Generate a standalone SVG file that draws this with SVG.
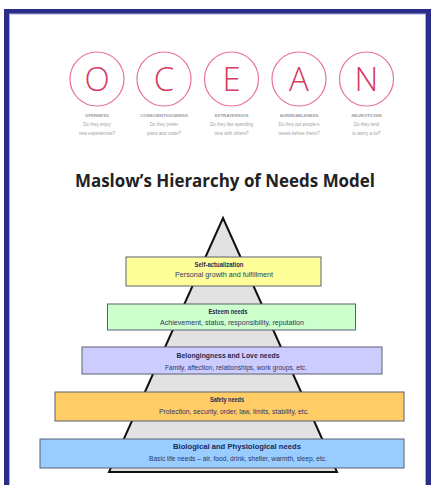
<svg xmlns="http://www.w3.org/2000/svg" width="431" height="485" viewBox="0 0 431 485">
<style>
.ring{fill:none;stroke:#e8748f;stroke-width:1.2}
.letter{font-family:"Open Sans",sans-serif;font-weight:300;font-size:33px;fill:#d63a5e;text-anchor:middle}
.cap{font-family:"Liberation Sans",sans-serif;font-size:4.3px;fill:#9a9a9a;text-anchor:middle;font-weight:bold}
.q{font-family:"Liberation Sans",sans-serif;font-size:4.5px;fill:#a0a0a0;text-anchor:middle}
.band{stroke:#5a6070;stroke-width:1}
.bt{font-family:"Liberation Sans",sans-serif;font-weight:bold;font-size:7px;fill:#1d2a55;text-anchor:middle}
.bs{font-family:"Liberation Sans",sans-serif;font-size:7px;fill:#2a3766;text-anchor:middle}
</style>
<rect x="0" y="0" width="431" height="485" fill="#ffffff"/>
<g id="frame">
<rect x="4" y="9" width="427" height="476" fill="#2c2d88"/>
<rect x="9.5" y="14" width="416" height="472" fill="#ffffff" stroke="#a9a9dc" stroke-width="1"/>
</g>
<g id="ocean">
<g id="o"><circle class="ring" cx="97" cy="79" r="27"/><text class="letter" x="97" y="91">O</text><text class="cap" x="97" y="117">OPENNESS</text><text class="q" x="97" y="126">Do they enjoy</text><text class="q" x="97" y="135">new experiences?</text></g>
<g id="c"><circle class="ring" cx="164" cy="79" r="27"/><text class="letter" x="164" y="91">C</text><text class="cap" x="164" y="117">CONSCIENTIOUSNESS</text><text class="q" x="164" y="126">Do they prefer</text><text class="q" x="164" y="135">plans and order?</text></g>
<g id="e"><circle class="ring" cx="231.5" cy="79" r="27"/><text class="letter" x="231.5" y="91">E</text><text class="cap" x="231.5" y="117">EXTRAVERSION</text><text class="q" x="231.5" y="126">Do they like spending</text><text class="q" x="231.5" y="135">time with others?</text></g>
<g id="a"><circle class="ring" cx="299" cy="79" r="27"/><text class="letter" x="299" y="91">A</text><text class="cap" x="299" y="117">AGREEABLENESS</text><text class="q" x="299" y="126">Do they put people's</text><text class="q" x="299" y="135">needs before theirs?</text></g>
<g id="n"><circle class="ring" cx="366.5" cy="79" r="27"/><text class="letter" x="366.5" y="91">N</text><text class="cap" x="366.5" y="117">NEUROTICISM</text><text class="q" x="366.5" y="126">Do they tend</text><text class="q" x="366.5" y="135">to worry a lot?</text></g>
</g>
<text id="title" x="75" y="187" font-family="'Open Sans',sans-serif" font-weight="bold" font-size="17.5" fill="#222" textLength="300" lengthAdjust="spacingAndGlyphs">Maslow’s Hierarchy of Needs Model</text>
<rect x="40" y="205" width="364" height="280" fill="#ffffff"/>
<g id="pyramid"><polygon points="223,218 337,472 109,472" fill="#e2e2e2" stroke="#111" stroke-width="2" stroke-linejoin="miter"/></g>
<g id="connectors"></g>
<g id="self-actualization">
<rect class="band" x="126" y="257" width="195" height="29" fill="#ffff99"/>
<text class="bt" x="219" y="267" textLength="49" lengthAdjust="spacingAndGlyphs">Self-actualization</text>
<text class="bs" x="224" y="277" textLength="98" lengthAdjust="spacingAndGlyphs">Personal growth and fulfillment</text>
</g>
<g id="esteem">
<rect class="band" x="107.5" y="304" width="248" height="26" fill="#ccffcc"/>
<text class="bt" x="228" y="314" textLength="39" lengthAdjust="spacingAndGlyphs">Esteem needs</text>
<text class="bs" x="232" y="325" textLength="144" lengthAdjust="spacingAndGlyphs">Achievement, status, responsibility, reputation</text>
</g>
<g id="belongingness">
<rect class="band" x="82" y="347" width="300" height="27" fill="#ccccff"/>
<text class="bt" x="228" y="358" textLength="103" lengthAdjust="spacingAndGlyphs">Belongingness and Love needs</text>
<text class="bs" x="236" y="370" textLength="142" lengthAdjust="spacingAndGlyphs">Family, affection, relationships, work groups, etc.</text>
</g>
<g id="safety">
<rect class="band" x="55" y="392" width="349" height="29" fill="#ffcc66"/>
<text class="bt" x="227" y="402" textLength="34" lengthAdjust="spacingAndGlyphs">Safety needs</text>
<text class="bs" x="234" y="414" textLength="150" lengthAdjust="spacingAndGlyphs">Protection, security, order, law, limits, stability, etc.</text>
</g>
<g id="biological">
<rect class="band" x="40" y="439" width="364" height="29" fill="#99ccff"/>
<text class="bt" x="237" y="449" textLength="128" lengthAdjust="spacingAndGlyphs">Biological and Physiological needs</text>
<text class="bs" x="238" y="461" textLength="178" lengthAdjust="spacingAndGlyphs">Basic life needs – air, food, drink, shelter, warmth, sleep, etc.</text>
</g>
</svg>
